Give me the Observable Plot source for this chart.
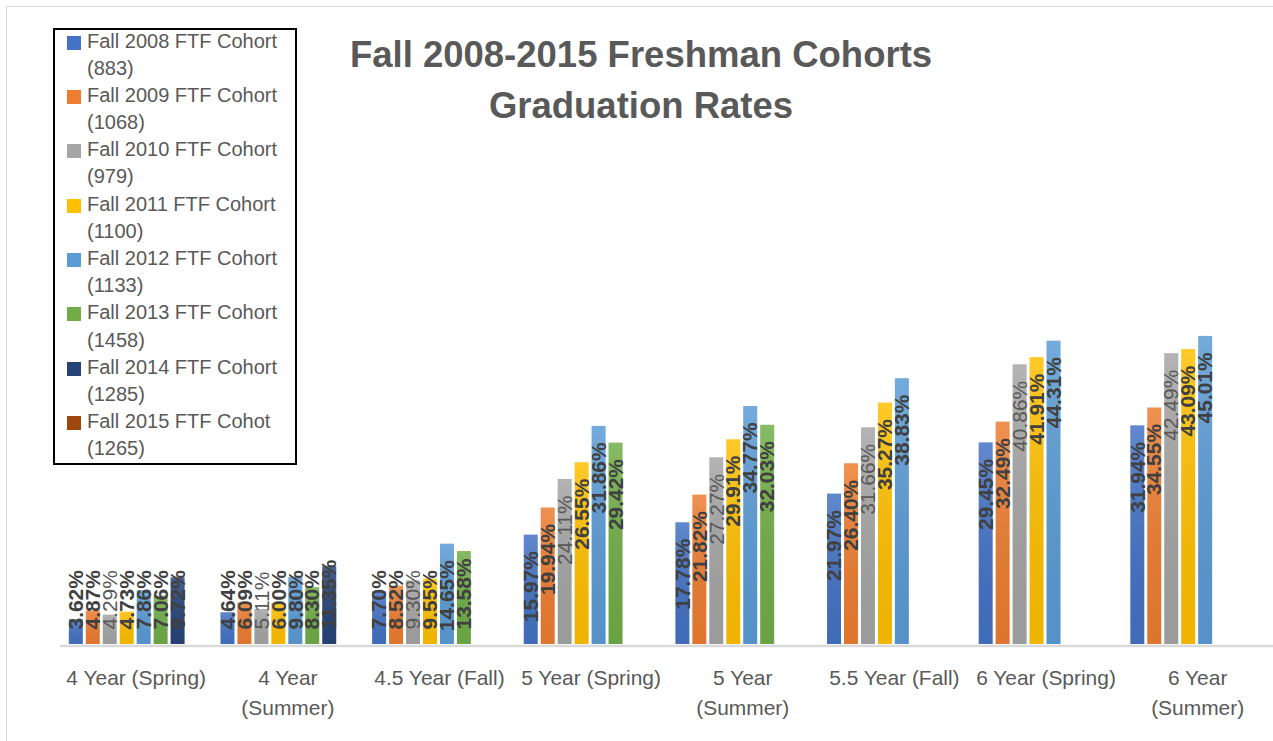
<!DOCTYPE html>
<html>
<head>
<meta charset="utf-8">
<script src="https://cdn.jsdelivr.net/npm/d3@7"></script>
<script src="https://cdn.jsdelivr.net/npm/@observablehq/plot@0.6"></script>
<style>
  html, body { margin: 0; padding: 0; background: #fff; overflow: hidden; }
  body { width: 1273px; height: 741px; position: relative; font-family: "Liberation Sans", Arial, sans-serif; }
  #frame { position: absolute; left: 6px; top: 6px; width: 1400px; height: 900px; border-left: 1.5px solid #d9d9d9; border-top: 1.5px solid #d9d9d9; }
  #chart { position: absolute; left: 0; top: 0; }
  #title { position: absolute; left: 341px; width: 600px; top: 29px; text-align: center; font-weight: bold; font-size: 36.5px; line-height: 51px; color: #595959; }
  #legend { position: absolute; left: 53px; top: 28px; width: 244px; height: 437px; box-sizing: border-box; border: 2px solid #000; background: #fff; }
  #legend .inner { position: absolute; left: 0; top: -2.5px; }
  #legend .item { position: relative; height: 54.4px; padding-left: 32px; font-size: 20px; line-height: 27.2px; color: #595959; white-space: nowrap; }
  #legend .sw { position: absolute; left: 12px; top: 8px; width: 14px; height: 14px; }
</style>
</head>
<body>
<div id="frame"></div>
<div id="chart"></div>
<div id="title">Fall 2008-2015 Freshman Cohorts<br>Graduation Rates</div>
<div id="legend"><div class="inner"></div></div>
<script>
// ---- data ----
const categories = ["4 Year (Spring)", "4 Year (Summer)", "4.5 Year (Fall)", "5 Year (Spring)", "5 Year (Summer)", "5.5 Year (Fall)", "6 Year (Spring)", "6 Year (Summer)"];
const tickLabels = ["4 Year (Spring)", "4 Year\n(Summer)", "4.5 Year (Fall)", "5 Year (Spring)", "5 Year\n(Summer)", "5.5 Year (Fall)", "6 Year (Spring)", "6 Year\n(Summer)"];
const cohorts = ["Fall 2008", "Fall 2009", "Fall 2010", "Fall 2011", "Fall 2012", "Fall 2013", "Fall 2014", "Fall 2015"];
const cohortNames = ["Fall 2008 FTF Cohort", "Fall 2009 FTF Cohort", "Fall 2010 FTF Cohort", "Fall 2011 FTF Cohort", "Fall 2012 FTF Cohort", "Fall 2013 FTF Cohort", "Fall 2014 FTF Cohort", "Fall 2015 FTF Cohot"];
const cohortSizes = ["(883)", "(1068)", "(979)", "(1100)", "(1133)", "(1458)", "(1285)", "(1265)"];
const colors = ["#4472C4", "#ED7D31", "#A5A5A5", "#FFC000", "#5B9BD5", "#70AD47", "#264478", "#9E480E"];

const rates2008 = [3.62, 4.64, 7.70, 15.97, 17.78, 21.97, 29.45, 31.94];
const rates2009 = [4.87, 6.09, 8.52, 19.94, 21.82, 26.40, 32.49, 34.55];
const rates2010 = [4.29, 5.11, 9.30, 24.11, 27.27, 31.66, 40.86, 42.49];
const rates2011 = [4.73, 6.00, 9.55, 26.55, 29.91, 35.27, 41.91, 43.09];
const rates2012 = [7.86, 9.80, 14.65, 31.86, 34.77, 38.83, 44.31, 45.01];
const rates2013 = [7.06, 8.30, 13.58, 29.42, 32.03, null, null, null];
const rates2014 = [9.72, 11.35, null, null, null, null, null, null];
const rates2015 = [null, null, null, null, null, null, null, null];

const series = [rates2008, rates2009, rates2010, rates2011, rates2012, rates2013, rates2014, rates2015];

const rows = [];
series.forEach((vals, i) => vals.forEach((v, j) => {
  if (v != null) rows.push({cohort: cohorts[i], category: categories[j], value: v, label: v.toFixed(2) + "%"});
}));

const fitThreshold = 14;
const isLight = d => d.cohort === "Fall 2010";

function labelMark(filter, weight, fill) {
  const common = {fx: "category", x: "cohort", text: "label", rotate: -90, fontSize: 21, fontWeight: weight, fill, lineAnchor: "middle"};
  return [
    Plot.text(rows.filter(d => filter(d) && d.value >= fitThreshold), {...common, y: "value", textAnchor: "end", dy: 16}),
    Plot.text(rows.filter(d => filter(d) && d.value < fitThreshold), {...common, y: () => 0, textAnchor: "start", dy: -15})
  ];
}

// subtle vertical sheen used on top of the bars
const defsMark = () => {
  const defs = d3.create("svg:defs");
  const g = defs.append("linearGradient").attr("id", "sheen").attr("x1", 0).attr("y1", 0).attr("x2", 0).attr("y2", 1);
  g.append("stop").attr("offset", "0%").attr("stop-color", "#fff").attr("stop-opacity", 0.16);
  g.append("stop").attr("offset", "100%").attr("stop-color", "#000").attr("stop-opacity", 0.06);
  return defs.node();
};

const chart = Plot.plot({
  width: 1276,
  height: 741,
  marginLeft: 60,
  marginRight: 0,
  marginTop: 302.5,
  marginBottom: 95.5,
  style: {fontFamily: "'Liberation Sans', Arial, sans-serif", background: "transparent", overflow: "visible"},
  fx: {domain: categories, padding: 0, label: null},
  x: {domain: cohorts, paddingInner: 0.16, paddingOuter: 0.35, axis: null},
  y: {domain: [0, 50], axis: null},
  color: {domain: cohorts, range: colors},
  marks: [
    defsMark,
    Plot.barY(rows, {fx: "category", x: "cohort", y: "value", fill: "cohort"}),
    Plot.barY(rows, {fx: "category", x: "cohort", y: "value", fill: "url(#sheen)"}),
    Plot.ruleY([0], {stroke: "#d9d9d9", strokeWidth: 2.5, dy: 1.5}),
    ...labelMark(d => !isLight(d), "bold", "#404040"),
    ...labelMark(isLight, "normal", "#595959"),
    Plot.axisFx({anchor: "bottom", tickSize: 0, tickPadding: 20, fontSize: 21, fill: "#595959", lineHeight: 1.4, label: null,
      tickFormat: d => tickLabels[categories.indexOf(d)]})
  ]
});
document.getElementById("chart").appendChild(chart);

// legend
const inner = document.querySelector("#legend .inner");
cohorts.forEach((c, i) => {
  const item = document.createElement("div");
  item.className = "item";
  const sw = document.createElement("div");
  sw.className = "sw";
  sw.style.background = colors[i];
  item.appendChild(sw);
  item.appendChild(document.createTextNode(cohortNames[i]));
  item.appendChild(document.createElement("br"));
  item.appendChild(document.createTextNode(cohortSizes[i]));
  inner.appendChild(item);
});
</script>
</body>
</html>
